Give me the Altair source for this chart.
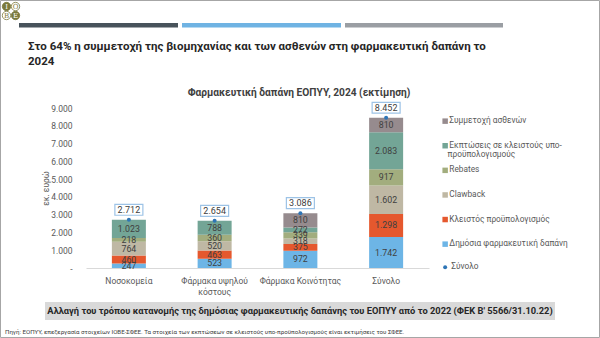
import altair as alt
import pandas as pd

# ---------------- data ----------------
categories = ["Νοσοκομεία", "Φάρμακα υψηλού κόστους", "Φάρμακα Κοινότητας", "Σύνολο"]
# legend order (top -> bottom)
series = [
    "Συμμετοχή ασθενών",
    "Εκπτώσεις σε κλειστούς υπο-προϋπολογισμούς",
    "Rebates",
    "Clawback",
    "Κλειστός προϋπολογισμός",
    "Δημόσια φαρμακευτική δαπάνη",
]
series_colors = ["#968B8E", "#73A596", "#A2AD7E", "#BFB8A4", "#E5582E", "#6DB5E6"]

dimosia = [247, 523, 972, 1742]
kleistos = [460, 463, 375, 1298]
clawback = [764, 520, 318, 1602]
rebates = [218, 360, 339, 917]
ekptoseis = [1023, 788, 272, 2083]
symmetoxi = [0, 0, 810, 810]
totals = [2712, 2654, 3086, 8452]
y_ticks = [0, 1000, 2000, 3000, 4000, 5000, 6000, 7000, 8000, 9000]

title_l1 = "Στο 64% η συμμετοχή της βιομηχανίας και των ασθενών στη φαρμακευτική δαπάνη το"
title_l2 = "2024"
chart_title = "Φαρμακευτική δαπάνη ΕΟΠΥΥ, 2024 (εκτίμηση)"
banner = "Αλλαγή του τρόπου κατανομής της δημόσιας φαρμακευτικής δαπάνης του ΕΟΠΥΥ από το 2022 (ΦΕΚ Β' 5566/31.10.22)"
source = ("Πηγή: ΕΟΠΥΥ, επεξεργασία στοιχείων ΙΟΒΕ-ΣΦΕΕ. Τα στοιχεία των εκπτώσεων σε "
          "κλειστούς υπο-προϋπολογισμούς είναι εκτιμήσεις του ΣΦΕΕ.")
legend_wrap_first = "Εκπτώσεις σε κλειστούς υπο-"
legend_wrap_second = "προϋπολογισμούς"

stack_series = [  # bottom -> top
    ("Δημόσια φαρμακευτική δαπάνη", dimosia),
    ("Κλειστός προϋπολογισμός", kleistos),
    ("Clawback", clawback),
    ("Rebates", rebates),
    ("Εκπτώσεις σε κλειστούς υπο-προϋπολογισμούς", ekptoseis),
    ("Συμμετοχή ασθενών", symmetoxi),
]
rows = []
for ordi, (name, vals) in enumerate(stack_series):
    for c, v in zip(categories, vals):
        if v > 0:
            rows.append({"cat": c, "series": name, "value": v, "ord": ordi})
df = pd.DataFrame(rows)
df_tot = pd.DataFrame({"cat": categories, "total": totals, "name": ["Σύνολο"] * 4})

# ---------------- layout ----------------
PL, PT, PR, PB = 86, 108, 171, 70
W, H = 600 - PL - PR, 338 - PT - PB
FONT = "Roboto"
GREY = "#595959"
DARK = "#404040"


def X(px):
    return px - PL


def Y(py):
    return py - PT


one = pd.DataFrame({"k": [0]})

x_axis = alt.Axis(
    title=None, ticks=False, domainColor="#D9D9D9", labelAngle=0,
    labelFont=FONT, labelFontSize=8.5, labelColor=GREY, labelPadding=8,
    labelLineHeight=11,
    labelExpr="datum.value == 'Φάρμακα υψηλού κόστους' ? ['Φάρμακα υψηλού', 'κόστους'] : datum.value",
)
y_axis = alt.Axis(
    title="εκ. ευρώ", values=y_ticks, domain=False, ticks=False, grid=False,
    labelOverlap=False,
    labelFont=FONT, labelFontSize=8.5, labelColor=GREY, labelPadding=14,
    labelExpr="datum.value == 0 ? '-' : replace(format(datum.value, ','), ',', '.')",
    titleFont=FONT, titleFontSize=8.5, titleColor=GREY, titleFontWeight="normal",
    titleX=X(45), titleY=Y(188), titleAngle=-90, titleAlign="center", titleBaseline="middle",
)
xscale = alt.Scale(domain=categories, paddingInner=0, paddingOuter=0)
yscale = alt.Scale(domain=[0, 9000], nice=False)
xenc = alt.X("cat:N", sort=categories, scale=xscale, axis=x_axis)

bars = alt.Chart(df).mark_bar(size=34).encode(
    x=xenc,
    y=alt.Y("value:Q", stack="zero", scale=yscale, axis=y_axis),
    fill=alt.Fill(
        "series:N",
        scale=alt.Scale(domain=series, range=series_colors),
        legend=alt.Legend(
            orient="none", legendX=X(441), legendY=Y(117), title=None, padding=0,
            symbolType="square", symbolSize=30, symbolStrokeWidth=0,
            labelFont=FONT, labelFontSize=8.3, labelColor=GREY, labelOffset=0,
            rowPadding=15.6, labelLimit=300,
            labelExpr=f"datum.value == 'Εκπτώσεις σε κλειστούς υπο-προϋπολογισμούς' ? '{legend_wrap_first}' : datum.value",
        ),
    ),
    order=alt.Order("ord:Q", sort="ascending"),
)

seg_labels = alt.Chart(df).transform_stack(
    stack="value", groupby=["cat"], as_=["y0", "y1"],
    sort=[alt.SortField("ord", order="ascending")],
).transform_calculate(
    mid="(datum.y0 + datum.y1) / 2",
    lbl="replace(format(datum.value, ','), ',', '.')",
).mark_text(font=FONT, fontSize=8.8, color=DARK, baseline="middle").encode(
    x=xenc,
    y=alt.Y("mid:Q", scale=yscale, axis=y_axis),
    text="lbl:N",
)

dots = alt.Chart(df_tot).mark_point(filled=True, size=16, color="#2E75B6", opacity=1).encode(
    x=xenc,
    y=alt.Y("total:Q", scale=yscale, axis=y_axis),
    shape=alt.Shape(
        "name:N",
        scale=alt.Scale(domain=["Σύνολο"], range=["circle"]),
        legend=alt.Legend(
            orient="none", legendX=X(441), legendY=Y(263), title=None, padding=0,
            symbolSize=16, symbolFillColor="#2E75B6", symbolStrokeWidth=0,
            labelFont=FONT, labelFontSize=8.3, labelColor=GREY, labelOffset=2,
        ),
    ),
)

boxes = alt.Chart(df_tot).mark_point(
    shape="M-1,-0.39L1,-0.39L1,0.39L-1,0.39Z", size=784, filled=True,
    fill="white", stroke="#9DC3E6", strokeWidth=1.2, opacity=1, yOffset=-10,
).encode(x=xenc, y=alt.Y("total:Q", scale=yscale, axis=y_axis))

tot_labels = alt.Chart(df_tot).transform_calculate(
    lbl="replace(format(datum.total, ','), ',', '.')"
).mark_text(font=FONT, fontSize=9, color=DARK, baseline="middle", dy=-10).encode(
    x=xenc, y=alt.Y("total:Q", scale=yscale, axis=y_axis), text="lbl:N"
)

# second line of the wrapped legend label
leg_wrap = alt.Chart(one).mark_text(
    text=legend_wrap_second, font=FONT, fontSize=8.3, color=GREY, align="left", baseline="middle"
).encode(x=alt.value(X(447.5)), y=alt.value(Y(154.5)))

# ---------------- decorations ----------------
frame = alt.Chart(one).mark_rect(fill="white", fillOpacity=0, stroke="#A6A6A6", strokeWidth=1).encode(
    x=alt.value(X(0.5)), x2=alt.value(X(599.5)), y=alt.value(Y(0.5)), y2=alt.value(Y(337.5))
)
hb1 = alt.Chart(one).mark_rect(color="#48535B").encode(
    x=alt.value(X(19)), x2=alt.value(X(178)), y=alt.value(Y(23)), y2=alt.value(Y(27.5)))
hb2 = alt.Chart(one).mark_rect(color="#6FB3E3").encode(
    x=alt.value(X(182)), x2=alt.value(X(341)), y=alt.value(Y(23)), y2=alt.value(Y(27.5)))
hb3 = alt.Chart(one).mark_rect(color="#9A9EA3").encode(
    x=alt.value(X(345)), x2=alt.value(X(503)), y=alt.value(Y(23)), y2=alt.value(Y(27.5)))

OLIVE = "#7B7A3C"
logo = []
for (cx, cy, letter, filled) in [(6.5, 6.5, "Ι", True), (15.5, 6.5, "Ο", False),
                                 (6.5, 15.5, "Β", False), (15.5, 15.5, "Ε", True)]:
    logo.append(alt.Chart(one).mark_point(
        shape="circle", size=70, filled=True, fill=OLIVE if filled else "white",
        stroke=OLIVE, strokeWidth=0.8, opacity=1
    ).encode(x=alt.value(X(cx)), y=alt.value(Y(cy))))
    logo.append(alt.Chart(one).mark_text(
        text=letter, font="DejaVu Serif", fontSize=7, color="white" if filled else OLIVE,
        baseline="middle", align="center"
    ).encode(x=alt.value(X(cx)), y=alt.value(Y(cy + 0.3))))

t1 = alt.Chart(one).mark_text(text=title_l1, font=FONT, fontSize=11.5, fontWeight="bold",
                              color="#262626", align="left", baseline="middle").encode(
    x=alt.value(X(28)), y=alt.value(Y(46.5)))
t2 = alt.Chart(one).mark_text(text=title_l2, font=FONT, fontSize=11.5, fontWeight="bold",
                              color="#262626", align="left", baseline="middle").encode(
    x=alt.value(X(28)), y=alt.value(Y(62)))
sub = alt.Chart(one).mark_text(text=chart_title, font=FONT, fontSize=10.2, fontWeight="bold",
                               color=DARK, align="center", baseline="middle").encode(
    x=alt.value(X(299)), y=alt.value(Y(93)))

ban_rect = alt.Chart(one).mark_rect(color="#D9D9D9").encode(
    x=alt.value(X(45)), x2=alt.value(X(555)), y=alt.value(Y(302)), y2=alt.value(Y(320)))
ban_text = alt.Chart(one).mark_text(text=banner, font=FONT, fontSize=9.3,
                                    fontWeight="bold", color="#262626", align="center",
                                    baseline="middle").encode(
    x=alt.value(X(300)), y=alt.value(Y(311)))
src = alt.Chart(one).mark_text(text=source, font=FONT, fontSize=6.15,
                               color=DARK, align="left", baseline="middle").encode(
    x=alt.value(X(5)), y=alt.value(Y(332)))

chart = alt.layer(
    frame, hb1, hb2, hb3, *logo, t1, t2, sub, ban_rect, ban_text, src,
    bars, seg_labels, boxes, dots, tot_labels, leg_wrap,
).properties(
    width=W, height=H,
    autosize=alt.AutoSizeParams(type="none"),
    padding={"left": PL, "top": PT, "right": PR, "bottom": PB},
    background="white",
).configure_view(stroke=None).configure_axisY(labelOverlap=False)

chart.save("out.html", embed_options={"renderer": "svg", "actions": False})
